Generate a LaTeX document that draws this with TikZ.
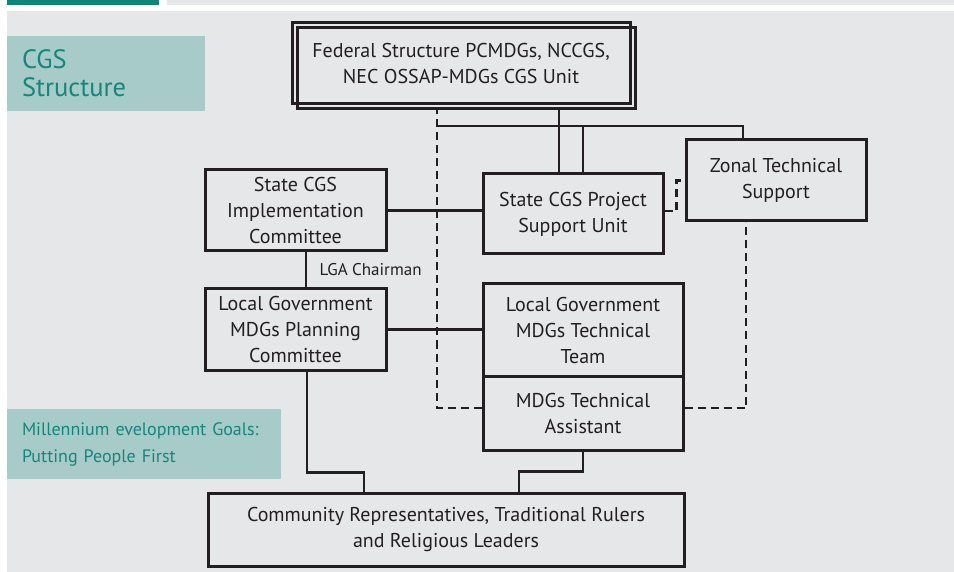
\documentclass[tikz,border=0pt]{standalone}
\usepackage{fontspec}
\setmainfont{PT Sans}
\usepackage{tikz}
\usetikzlibrary{calc}
\definecolor{inkline}{HTML}{231F20}
\definecolor{pagegray}{HTML}{E6E7E9}
\definecolor{barteal}{HTML}{0C8676}
\definecolor{panelteal}{HTML}{A7CBC8}
\definecolor{textteal}{HTML}{14877A}

\tikzset{
  unit/.style={draw=inkline, line width=3pt, align=center, inner sep=0pt, text=inkline, font=\fontsize{20}{26}\selectfont},
  link/.style={draw=inkline, line width=2.7pt},
  dashlink/.style={link, dash pattern=on 8pt off 5pt},
  panel/.style={fill=panelteal, text=textteal, align=left, inner xsep=15pt, inner ysep=0pt}
}

\begin{document}
\begin{tikzpicture}[x=1pt, y=-1pt]
  \useasboundingbox (0,0) rectangle (954,572);
  \fill[pagegray] (7,11) rectangle (954,572);
  \fill[barteal] (7,0) rectangle (159,5);
  \fill[pagegray] (167,0) rectangle (954,5);

  \node[panel, text width=168pt, minimum height=75pt, font=\fontsize{26.5}{28}\selectfont] (title) at (106,73.5) {CGS\\Structure};
  \node[panel, text width=244pt, minimum height=70pt, font=\fontsize{18}{27}\selectfont] (caption) at (144,444) {Millennium evelopment Goals:\\Putting People First};

  \node[unit, minimum width=338pt, minimum height=81pt] (fedb) at (466,68.5) {};
  \node[unit, minimum width=338pt, minimum height=81pt] (fed) at (461,63.5) {Federal Structure PCMDGs, NCCGS,\\NEC OSSAP-MDGs CGS Unit};
  \node[unit, minimum width=180pt, minimum height=80pt] (psu) at (573,214) {State CGS Project\\Support Unit};
  \node[unit, minimum width=180pt, minimum height=81pt] (zonal) at (776,180.5) {Zonal Technical\\Support};
  \node[unit, minimum width=181pt, minimum height=81pt] (scic) at (295.5,210.5) {State CGS\\Implementation\\Committee};
  \node[unit, minimum width=181pt, minimum height=81pt] (lgmpc) at (295.5,329.5) {Local Government\\MDGs Planning\\Committee};
  \node[unit, minimum width=200pt, minimum height=92pt] (lgmtt) at (583,330) {Local Government\\MDGs Technical\\Team};
  \node[unit, minimum width=200pt, minimum height=74pt] (mta) at (583,413) {MDGs Technical\\Assistant};
  \node[unit, minimum width=476pt, minimum height=73pt] (comm) at (446,529.5) {Community Representatives, Traditional Rulers\\and Religious Leaders};

  \coordinate (bus) at (437,126);
  \draw[link] ([xshift=-14pt]psu.north) -- ([xshift=-14pt]psu.north |- fedb.south);
  \draw[link] ([xshift=10pt]psu.north) -- ([xshift=10pt]psu.north |- bus);
  \draw[link] (bus) -| ([xshift=-33pt]zonal.north);
  \draw[dashlink] ([yshift=5pt]mta.west) -| (fedb.south -| bus);
  \draw[dashlink] ([yshift=5pt]mta.east) -| ([xshift=-30pt]zonal.south);
  \draw[dashlink] ([yshift=3pt]psu.east) -- ++(12,0) |- (zonal.west);
  \draw[link] (scic.east) -- (scic.east -| psu.west);
  \draw[link] ([xshift=10.5pt]scic.south) -- ([xshift=10.5pt]scic.south |- lgmpc.north) node[midway, right=9pt, text=inkline, font=\fontsize{17}{20}\selectfont] (chair) {LGA Chairman};
  \draw[link] (lgmpc.east) -- (lgmpc.east -| lgmtt.west);
  \draw[link] ([xshift=11.5pt]lgmpc.south) -- ++(0,101) -| ([xshift=-82pt]comm.north);
  \draw[link] (mta.south) -- ++(0,20) -| ([xshift=73pt]comm.north);
\end{tikzpicture}
\end{document}
